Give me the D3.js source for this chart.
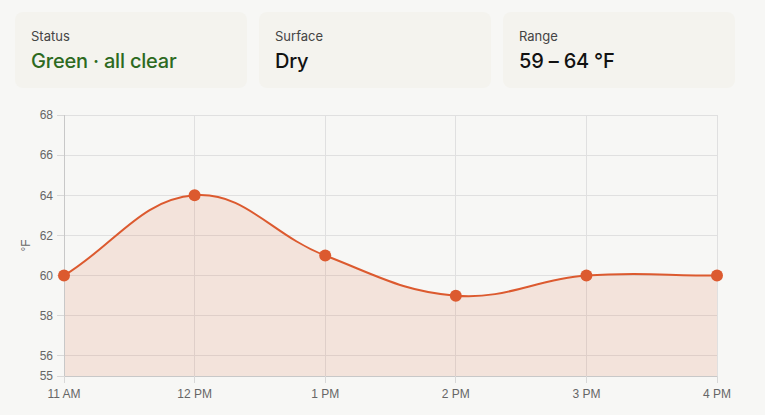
<!DOCTYPE html>
<html><head><meta charset="utf-8">
<script src="https://cdn.jsdelivr.net/npm/d3@7/dist/d3.min.js"></script>
<style>
html,body{margin:0;padding:0;background:#f7f7f5;width:765px;height:415px;overflow:hidden;}
.cards{position:absolute;left:15px;top:12px;display:flex;gap:12px;}
.card{width:232px;height:76px;background:#f4f3ee;border-radius:8px;box-sizing:border-box;padding:15px 16px;font-family:Inter,"Noto Sans",sans-serif;}
.lab{font-size:13px;color:#444;line-height:18px;}
.val{font-size:20px;font-weight:500;color:#111;line-height:26px;margin-top:3px;letter-spacing:-0.2px;}
svg{position:absolute;left:0;top:0;}
</style></head>
<body>
<div class="cards" id="cards"></div>
<svg id="chart" width="765" height="415"></svg>
<script>
const cardLabels = ["Status","Surface","Range"];
const cardValues = ["Green · all clear","Dry","59 – 64 °F"];
const cardColors = ["#2d6a1f","#111","#111"];
const categories = ["11 AM","12 PM","1 PM","2 PM","3 PM","4 PM"];
const temps = [60,64,61,59,60,60];
const yTicks = [55,56,58,60,62,64,66,68];
const yLabel = "°F";

const cards = d3.select("#cards").selectAll(".card").data(cardLabels).join("div").attr("class","card");
cards.append("div").attr("class","lab").text(d=>d);
cards.append("div").attr("class","val").text((d,i)=>cardValues[i]).style("color",(d,i)=>cardColors[i]);

const L=64,R=717,T=115,B=376;
const svg=d3.select("#chart");
const x=d3.scalePoint().domain(categories).range([L,R]);
const y=d3.scaleLinear().domain([55,68]).range([B,T]);
const font='"Liberation Sans",Arial,sans-serif';

// grid
svg.append("g").selectAll("line").data(yTicks.filter(t=>t!==55)).join("line")
  .attr("x1",L).attr("x2",R).attr("y1",d=>y(d)).attr("y2",d=>y(d)).attr("stroke","#e0e0e0").attr("stroke-width",1).attr("shape-rendering","crispEdges");
svg.append("g").selectAll("line").data(categories.slice(1)).join("line")
  .attr("x1",d=>x(d)).attr("x2",d=>x(d)).attr("y1",T).attr("y2",B).attr("stroke","#e0e0e0").attr("shape-rendering","crispEdges");

// curve (Chart.js-style spline, tension 0.4)
const pts=temps.map((v,i)=>({x:x(categories[i]),y:y(v)}));
const t=0.4;
const cps=pts.map((p,i)=>{
  const pr=pts[i-1]||p, nx=pts[i+1]||p;
  const d01=Math.hypot(p.x-pr.x,p.y-pr.y), d12=Math.hypot(nx.x-p.x,nx.y-p.y);
  let s01=d01/(d01+d12), s12=d12/(d01+d12);
  if(isNaN(s01))s01=0; if(isNaN(s12))s12=0;
  const fa=t*s01, fb=t*s12;
  return {px:p.x-fa*(nx.x-pr.x), py:p.y-fa*(nx.y-pr.y), nx:p.x+fb*(nx.x-pr.x), ny:p.y+fb*(nx.y-pr.y)};
});
function linePath(){
  const p=d3.path();
  p.moveTo(pts[0].x,pts[0].y);
  for(let i=1;i<pts.length;i++){
    p.bezierCurveTo(cps[i-1].nx,cps[i-1].ny,cps[i].px,cps[i].py,pts[i].x,pts[i].y);
  }
  return p.toString();
}
const lp=linePath();
svg.append("path").attr("d",lp+`L${R},${B}L${L},${B}Z`).attr("fill","rgba(220,90,47,0.13)");

// axes lines
svg.append("line").attr("x1",L).attr("x2",L).attr("y1",T).attr("y2",B+7).attr("stroke","#c8c8c8").attr("shape-rendering","crispEdges");
svg.append("line").attr("x1",L-7).attr("x2",R).attr("y1",B).attr("y2",B).attr("stroke","#c8c8c8").attr("shape-rendering","crispEdges");
svg.append("g").selectAll("line").data(yTicks).join("line")
  .attr("x1",L-7).attr("x2",L).attr("y1",d=>y(d)).attr("y2",d=>y(d)).attr("stroke","#d8d8d8").attr("shape-rendering","crispEdges");
svg.append("g").selectAll("line").data(categories).join("line")
  .attr("x1",d=>x(d)).attr("x2",d=>x(d)).attr("y1",B).attr("y2",B+7).attr("stroke","#d8d8d8").attr("shape-rendering","crispEdges");

svg.append("path").attr("d",lp).attr("fill","none").attr("stroke","#dc5a2f").attr("stroke-width",2);
svg.append("g").selectAll("circle").data(pts).join("circle")
  .attr("cx",d=>d.x).attr("cy",d=>d.y).attr("r",6).attr("fill","#dc5a2f");

// labels
svg.append("g").selectAll("text").data(yTicks).join("text")
  .attr("x",L-11).attr("y",d=>y(d)).attr("dy","0.35em").attr("text-anchor","end")
  .attr("font-family",font).attr("font-size",12).attr("fill","#666").text(d=>d);
svg.append("g").selectAll("text").data(categories).join("text")
  .attr("x",d=>x(d)).attr("y",B+18).attr("dy","0.35em").attr("text-anchor","middle")
  .attr("font-family",font).attr("font-size",12).attr("fill","#666").text(d=>d);
svg.append("text").attr("transform",`translate(26,${(T+B)/2}) rotate(-90)`).attr("text-anchor","middle").attr("dy","0.35em")
  .attr("font-family",font).attr("font-size",12).attr("fill","#666").text(yLabel);
</script>
</body></html>
